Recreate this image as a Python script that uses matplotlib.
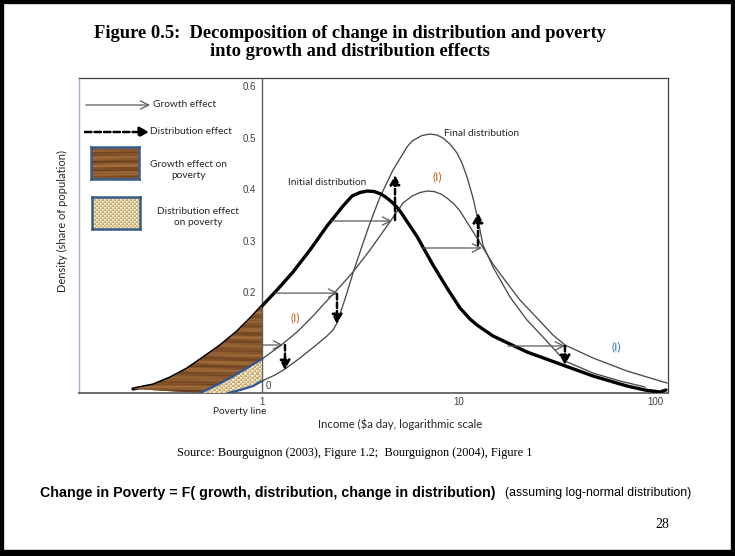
import numpy as np
import matplotlib.pyplot as plt
from matplotlib.patches import Polygon, Rectangle, FancyArrowPatch
from matplotlib.transforms import offset_copy

# income ($ a day) and density (share of population) for the three curves
init_inc = [0.2206, 0.2788, 0.3402, 0.4152, 0.5008, 0.6111, 0.7459, 0.8999, 1.0,
            1.192, 1.438, 1.755, 2.142, 2.584, 2.871, 3.153, 3.423, 3.715, 4.033,
            4.327, 4.697, 5.039, 6.150, 7.418, 8.740, 10.18, 11.44, 12.42, 14.98,
            18.29, 22.32, 32.85, 48.37, 72.03, 88.93, 106.0, 113.7]
init_den = [0.0078, 0.0155, 0.0291, 0.0466, 0.0680, 0.0913, 0.1184, 0.1495, 0.1689,
            0.2000, 0.2350, 0.2777, 0.3243, 0.3631, 0.3825, 0.3893, 0.3922, 0.3913,
            0.3864, 0.3786, 0.3670, 0.3534, 0.3040, 0.2485, 0.2039, 0.1650, 0.1437,
            0.1320, 0.1107, 0.0951, 0.0796, 0.0563, 0.0330, 0.0136, 0.0058, 0.0019,
            0.0058]

mid_inc = [0.4836, 0.5630, 0.6873, 0.8388, 1.0, 1.235, 1.507, 1.818, 2.020, 2.408,
           2.905, 3.545, 4.327, 5.220, 5.801, 6.369, 6.915, 7.503, 8.146, 8.740,
           9.487, 10.18, 12.42, 14.98, 17.65, 20.56, 25.09, 30.27, 34.83, 48.37,
           72.03, 115.1]
mid_den = [0.0, 0.0117, 0.0291, 0.0485, 0.0660, 0.0913, 0.1184, 0.1495, 0.1689,
           0.2000, 0.2350, 0.2777, 0.3243, 0.3689, 0.3825, 0.3893, 0.3922, 0.3913,
           0.3864, 0.3786, 0.3670, 0.3534, 0.3010, 0.2505, 0.2136, 0.1806, 0.1456,
           0.1126, 0.0932, 0.0680, 0.0427, 0.0194]

final_inc = [0.6714, 0.7727, 0.8999, 1.0, 1.165, 1.309, 1.561, 1.861, 2.142, 2.298,
             2.408, 2.523, 2.645, 2.905, 3.229, 3.545, 3.986, 4.642, 5.470, 5.801,
             6.520, 7.161, 7.770, 8.340, 9.050, 9.826, 10.42, 11.05, 11.86, 12.57,
             13.32, 14.98, 18.29, 22.32, 26.92, 34.83, 48.37, 66.35, 88.93]
final_den = [0.0, 0.0058, 0.0136, 0.0233, 0.0350, 0.0466, 0.0680, 0.0913, 0.1107,
             0.1223, 0.1359, 0.1592, 0.1825, 0.2330, 0.2854, 0.3301, 0.3806, 0.4330,
             0.4777, 0.4893, 0.5000, 0.5029, 0.5010, 0.4951, 0.4835, 0.4660, 0.4466,
             0.4194, 0.3786, 0.3359, 0.2874, 0.2447, 0.1864, 0.1417, 0.1087, 0.0621,
             0.0388, 0.0233, 0.0117]

poverty_line = 1.0

# growth effect: (from income, to income, density)
growth_arrows = [(0.611, 1.279, 0.0932), (1.165, 2.437, 0.194), (2.271, 4.587, 0.334),
                 (6.597, 13.17, 0.2816), (17.86, 34.83, 0.0913)]
# distribution effect: (income, from density, to density)
dist_arrows = [(1.309, 0.0932, 0.0447), (2.408, 0.1922, 0.134), (4.752, 0.336, 0.4233),
               (12.57, 0.2874, 0.3495), (34.83, 0.0913, 0.0544)]

ytick_vals = [0.2, 0.3, 0.4, 0.5, 0.6]
xtick_vals = [1, 10, 100]

W, H = 735, 556
fig = plt.figure(figsize=(W / 100, H / 100), dpi=100)


def fp(x, y):
    # canvas pixel -> figure fraction
    return (x / W, 1 - y / H)


sans = 'Lato'
dark = '#404040'

ax = fig.add_axes([79 / W, 1 - 393 / H, 589 / W, 315 / H])
ax.set_xscale('log')
ax.set_xlim(0.1171, 116.5)
ax.set_ylim(0, 0.6117)
ax.xaxis.set_minor_locator(plt.NullLocator())
ax.set_yticks([])
ax.set_xticks(xtick_vals)
ax.set_xticklabels(['1', '10', '100'], fontsize=7, color=dark, family='Liberation Sans')
ax.tick_params(axis='x', length=0, pad=3)
for side in ['top', 'right']:
    ax.spines[side].set_color('#3f3f3f')
    ax.spines[side].set_linewidth(0.9)
ax.spines['left'].set_color('#9fb3cf')
ax.spines['left'].set_linewidth(1.0)
ax.spines['bottom'].set_color('#606060')
ax.spines['bottom'].set_linewidth(1.3)
ax.axvline(poverty_line, color='#606060', lw=1.0, zorder=1)

ylab_tr = offset_copy(ax.transData, fig=fig, x=-6, y=-3, units='dots')
for v in ytick_vals:
    ax.text(poverty_line, v, f'{v:.1f}', transform=ylab_tr, ha='right', va='center',
            fontsize=7, color=dark, family='Liberation Sans')
ax.text(poverty_line, 0, '0', transform=offset_copy(ax.transData, fig=fig, x=4, y=7, units='dots'),
        ha='left', va='center', fontsize=7, color=dark, family='Liberation Sans')

init_inc = np.array(init_inc); init_den = np.array(init_den)
mid_inc = np.array(mid_inc); mid_den = np.array(mid_den)
final_inc = np.array(final_inc); final_den = np.array(final_den)

# curves
ax.plot(init_inc, init_den, color='black', lw=2.4, solid_capstyle='round',
        solid_joinstyle='round', zorder=4)
ax.plot(mid_inc, mid_den, color='#4a4a4a', lw=0.95, solid_joinstyle='round', zorder=3)
ax.plot(final_inc, final_den, color='#4a4a4a', lw=0.95, solid_joinstyle='round', zorder=3)


def wood(h, w):
    r = np.arange(h)[:, None]
    c = np.arange(w)[None, :]
    t = (0.5 + 0.22 * np.sin(r * 0.75 + 0.9 * np.sin(c * 0.035))
         + 0.12 * np.sin(r * 2.1 + c * 0.02) + 0.08 * np.sin(r * 5.3 + c * 0.01))
    t = np.clip(t, 0, 1)[..., None]
    lo = np.array([0.36, 0.21, 0.09])
    hi = np.array([0.70, 0.48, 0.27])
    return lo * (1 - t) + hi * t


def weave(h, w):
    r = np.arange(h)[:, None]
    c = np.arange(w)[None, :]
    cell = ((r // 2) % 2) ^ ((c // 2) % 2)
    edge = ((r % 2 == 0) | (c % 2 == 0)).astype(float)
    t = (0.25 + 0.5 * cell + 0.25 * edge)[..., None]
    lo = np.array([0.64, 0.52, 0.30])
    hi = np.array([0.96, 0.91, 0.76])
    return lo * (1 - t) + hi * t


# growth effect on poverty: between initial and (I) left of the poverty line
m1 = init_inc <= poverty_line
m2 = mid_inc <= poverty_line
m3 = final_inc <= poverty_line
brown_xy = np.vstack([np.column_stack([init_inc[m1], init_den[m1]]),
                      np.column_stack([mid_inc[m2], mid_den[m2]])[::-1]])
brown = Polygon(brown_xy, closed=True, facecolor='#8a5a2c', edgecolor='none', zorder=5)
ax.add_patch(brown)
img = ax.imshow(wood(100, 140), extent=[0.08, 0.32, 0.0, 0.32], transform=ax.transAxes,
                aspect='auto', interpolation='bilinear', zorder=5)
img.set_clip_path(brown)

# distribution effect on poverty: between (I) and final left of the poverty line
cream_xy = np.vstack([np.column_stack([mid_inc[m2], mid_den[m2]]),
                      np.column_stack([final_inc[m3], final_den[m3]])[::-1]])
cream = Polygon(cream_xy, closed=True, facecolor='#e6d5a8', edgecolor='none', zorder=5)
ax.add_patch(cream)
img2 = ax.imshow(weave(40, 70), extent=[0.18, 0.32, 0.0, 0.13], transform=ax.transAxes,
                 aspect='auto', interpolation='nearest', zorder=5)
img2.set_clip_path(cream)
ax.plot(mid_inc[m2], mid_den[m2], color='#2f5597', lw=1.6, zorder=6)
ax.plot(final_inc[m3], final_den[m3], color='#2f5597', lw=1.6, zorder=6)

for x0, x1, lev in growth_arrows:
    ax.add_patch(FancyArrowPatch((x0, lev), (x1, lev), arrowstyle='->,head_length=0.6,head_width=0.3',
                                 mutation_scale=10, color='#5a5a5a', lw=0.9,
                                 shrinkA=0, shrinkB=0, zorder=4.5 if x1 > 2 else 2))
for xv, y0, y1 in dist_arrows:
    ax.add_patch(FancyArrowPatch((xv, y0), (xv, y1), arrowstyle='-|>,head_length=0.55,head_width=0.3',
                                 mutation_scale=10, color='black', lw=1.8, linestyle=(0, (2.2, 1.2)),
                                 shrinkA=0, shrinkB=0, zorder=7))

# curve labels
lab = dict(fontsize=7.3, color='#262626', family=sans)
ax.text(1.356, 0.408, 'Initial distribution', ha='left', va='center', **lab)
ax.text(8.44, 0.503, 'Final distribution', ha='left', va='center', **lab)
ax.text(7.77, 0.419, '(I)', ha='center', va='center', fontsize=8.5, color='#c55a11', family=sans)
ax.text(1.472, 0.1456, '(I)', ha='center', va='center', fontsize=8.5, color='#c55a11', family=sans)
ax.text(63.3, 0.0893, '(I)', ha='center', va='center', fontsize=8.5, color='#2e75b6', family=sans)

# legend inside the frame
fig.patches.append(FancyArrowPatch(fp(86, 105), fp(150, 105), transform=fig.transFigure,
                                   arrowstyle='->,head_length=0.6,head_width=0.3', mutation_scale=10,
                                   color='#5a5a5a', lw=0.9, shrinkA=0, shrinkB=0))
fig.text(*fp(153, 105), 'Growth effect', ha='left', va='center', **lab)
fig.patches.append(FancyArrowPatch(fp(85, 132), fp(149, 132), transform=fig.transFigure,
                                   arrowstyle='-|>,head_length=0.55,head_width=0.3', mutation_scale=10,
                                   color='black', lw=1.8, linestyle=(0, (2.6, 1.2)),
                                   shrinkA=0, shrinkB=0))
fig.text(*fp(150, 131), 'Distribution effect', ha='left', va='center', **lab)

box_ax1 = fig.add_axes([91 / W, 1 - 179 / H, 48 / W, 32 / H])
box_ax1.imshow(wood(32, 48), aspect='auto', interpolation='bilinear')
box_ax2 = fig.add_axes([92 / W, 1 - 229 / H, 48 / W, 32 / H])
box_ax2.imshow(weave(32, 48), aspect='auto', interpolation='nearest')
for b in (box_ax1, box_ax2):
    b.set_xticks([]); b.set_yticks([])
    for s in b.spines.values():
        s.set_color('#385d8a'); s.set_linewidth(1.8)
fig.text(*fp(189, 170), 'Growth effect on\npoverty', ha='center', va='center',
         linespacing=1.35, **lab)
fig.text(*fp(198, 217), 'Distribution effect\non poverty', ha='center', va='center',
         linespacing=1.35, **lab)

# axis titles
fig.text(*fp(62, 221), 'Density (share of population)', rotation=90, ha='center', va='center',
         fontsize=8, color='#262626', family=sans)
fig.text(*fp(240, 412), 'Poverty line', ha='center', va='center', **lab)
fig.text(*fp(318, 424), 'Income ($a day, logarithmic scale', ha='left', va='center',
         fontsize=8.2, color='#262626', family=sans)

# slide text
fig.text(*fp(350, 33), 'Figure 0.5:  Decomposition of change in distribution and poverty',
         ha='center', va='center', fontsize=13.3, fontweight='bold', family='Liberation Serif')
fig.text(*fp(350, 52), 'into growth and distribution effects',
         ha='center', va='center', fontsize=13.3, fontweight='bold', family='Liberation Serif')
fig.text(*fp(355, 453), 'Source: Bourguignon (2003), Figure 1.2;  Bourguignon (2004), Figure 1',
         ha='center', va='center', fontsize=8.85, family='Liberation Serif')
fig.text(*fp(40, 493), 'Change in Poverty = F( growth, distribution, change in distribution)',
         ha='left', va='center', fontsize=10.3, fontweight='bold', family='Liberation Sans')
fig.text(*fp(505, 493), '(assuming log-normal distribution)',
         ha='left', va='center', fontsize=8.8, family='Liberation Sans')
fig.text(*fp(662, 525), '28', ha='center', va='center', fontsize=10, family='Liberation Serif')

# slide frame, a little heavier along the bottom
fig.patches.append(Rectangle((0, 0), 1, 1, transform=fig.transFigure, fill=False,
                             edgecolor='black', lw=6))
fig.patches.append(Rectangle((0, 0), 1, 6 / H, transform=fig.transFigure, color='black'))

fig.savefig('out.png', dpi=100)
